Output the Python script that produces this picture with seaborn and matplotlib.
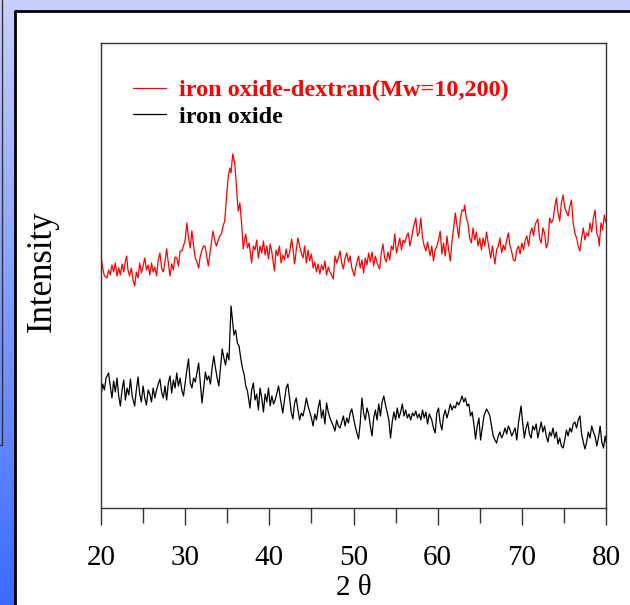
import numpy as np
import pandas as pd
import matplotlib
matplotlib.use("Agg")
import matplotlib.pyplot as plt
from matplotlib.patches import Rectangle
import seaborn as sns

# ---- data (2-theta in degrees, intensity in arbitrary units) ----
red_theta = [20.0,20.2,20.4,20.7,20.9,21.1,21.3,21.5,21.7,21.9,22.1,22.3,22.5,22.7,22.9,23.05,23.2,23.4,23.6,23.8,
             24.0,24.2,24.4,24.6,24.8,25.0,25.2,25.4,25.6,25.8,26.0,26.2,26.4,26.6,26.8,27.0,27.2,27.4,27.6,27.8,
             28.0,28.2,28.4,28.6,28.8,29.0,29.2,29.4,29.6,29.8,30.0,30.2,30.4,30.6,30.8,31.0,31.2,31.4,31.6,31.8,
             32.0,32.2,32.35,32.5,32.75,33.0,33.3,33.5,33.7,33.9,34.1,34.3,34.5,34.7,34.9,35.1,35.3,35.45,35.65,35.8,
             35.9,36.1,36.3,36.5,36.7,36.9,37.1,37.2,37.4,37.6,37.9,38.1,38.3,38.5,38.7,38.9,39.1,39.3,39.5,39.7,
             39.9,40.1,40.3,40.6,40.8,41.0,41.2,41.4,41.6,41.8,42.0,42.2,42.4,42.65,42.8,43.0,43.2,43.4,43.6,43.8,
             44.0,44.2,44.4,44.6,44.8,45.0,45.2,45.4,45.6,45.8,46.0,46.2,46.4,46.6,46.8,47.0,47.2,47.4,47.6,47.8,
             48.0,48.2,48.4,48.6,48.8,49.0,49.2,49.4,49.6,49.8,50.1,50.3,50.6,50.8,51.0,51.2,51.4,51.6,51.8,52.0,
             52.2,52.4,52.6,52.8,53.1,53.3,53.5,53.7,53.9,54.1,54.3,54.5,54.7,54.9,55.1,55.3,55.5,55.7,55.9,56.1,
             56.3,56.5,56.7,56.9,57.1,57.4,57.6,57.8,58.0,58.2,58.4,58.6,58.8,59.1,59.3,59.5,59.7,59.9,60.1,60.3,
             60.5,60.7,60.9,61.1,61.3,61.5,61.7,61.9,62.1,62.3,62.5,62.7,62.9,63.1,63.2,63.4,63.6,63.8,64.0,64.2,
             64.4,64.6,64.8,65.0,65.2,65.4,65.6,65.8,66.0,66.3,66.5,66.8,67.0,67.2,67.4,67.6,67.8,68.0,68.2,68.4,
             68.6,68.8,69.0,69.2,69.4,69.6,69.8,70.0,70.2,70.4,70.6,70.8,71.0,71.2,71.4,71.6,71.9,72.1,72.3,72.5,
             72.7,72.9,73.1,73.3,73.5,73.7,73.9,74.1,74.3,74.5,74.7,74.9,75.1,75.3,75.5,75.7,75.9,76.1,76.3,76.5,
             76.7,76.9,77.1,77.3,77.5,77.7,77.9,78.1,78.3,78.5,78.7,78.9,79.1,79.2,79.4,79.6,79.8,80.0]
red_int = [252,240,232,230,238,233,243,236,245,232,240,233,244,236,247,252,238,232,240,228,
           222,236,230,245,235,242,250,238,243,233,245,236,241,232,248,255,240,236,246,259,
           245,232,244,238,251,250,242,257,257,262,268,285,270,260,277,262,250,246,240,252,
           258,262,262,255,242,258,277,268,262,267,272,274,282,287,310,330,340,335,354,348,
           344,320,297,305,285,259,270,274,260,265,245,262,258,268,250,262,255,267,253,262,
           249,264,256,237,258,252,262,245,253,248,259,250,255,269,260,244,258,270,262,255,
           250,262,245,258,247,254,240,246,236,244,234,243,238,247,233,241,236,233,229,252,
           245,250,257,245,239,250,255,246,252,240,232,242,252,240,248,235,250,243,255,246,
           256,242,252,245,239,255,264,250,246,256,248,262,258,274,255,262,270,258,268,265,
           272,275,262,270,280,290,272,275,290,270,262,257,266,252,262,247,258,262,268,277,
           254,265,252,272,258,247,266,280,295,282,270,290,298,297,303,290,285,270,265,280,
           268,276,262,270,258,270,262,276,265,250,262,244,258,262,270,255,263,258,268,275,
           262,256,248,247,258,262,254,265,258,268,272,262,275,280,272,284,289,270,265,280,
           275,260,265,290,285,288,300,310,295,287,305,313,300,296,292,302,308,285,275,270,
           262,257,270,280,268,275,272,285,276,290,298,275,270,262,285,278,293,285]

black_theta = [20.0,20.2,20.4,20.6,20.9,21.1,21.3,21.5,21.7,21.9,22.1,22.3,22.5,22.7,22.9,23.1,23.3,23.5,23.7,24.0,
               24.2,24.4,24.6,24.8,25.0,25.2,25.4,25.6,25.8,26.0,26.2,26.4,26.6,26.8,27.0,27.2,27.4,27.6,27.8,28.0,
               28.2,28.4,28.6,28.8,29.0,29.2,29.4,29.6,29.8,30.0,30.2,30.4,30.6,30.8,31.0,31.2,31.4,31.6,31.8,32.0,
               32.2,32.4,32.6,32.8,33.0,33.2,33.4,33.6,33.8,34.0,34.2,34.4,34.6,34.8,35.0,35.2,35.45,35.6,35.8,36.0,
               36.2,36.4,36.6,36.8,37.0,37.2,37.4,37.7,37.9,38.1,38.3,38.5,38.7,38.9,39.1,39.3,39.5,39.7,39.9,40.1,
               40.3,40.5,40.7,40.9,41.1,41.3,41.6,41.8,42.0,42.2,42.4,42.6,42.8,43.0,43.2,43.4,43.6,43.8,44.0,44.2,
               44.4,44.6,44.8,45.0,45.2,45.4,45.6,45.8,46.0,46.2,46.4,46.6,46.8,47.0,47.2,47.4,47.6,47.8,48.0,48.2,
               48.4,48.6,48.8,49.0,49.2,49.4,49.6,49.8,50.0,50.2,50.4,50.6,50.8,51.0,51.2,51.4,51.6,51.8,52.0,52.2,
               52.4,52.6,52.8,53.0,53.2,53.4,53.6,53.8,54.0,54.2,54.4,54.6,54.8,55.0,55.2,55.4,55.6,55.8,56.0,56.2,
               56.4,56.6,56.8,57.0,57.2,57.4,57.6,57.8,58.0,58.2,58.4,58.6,58.8,59.0,59.3,59.5,59.7,59.9,60.1,60.3,
               60.5,60.7,60.9,61.1,61.3,61.5,61.7,61.9,62.1,62.3,62.5,62.7,62.9,63.1,63.3,63.5,63.7,63.9,64.1,64.3,
               64.5,64.7,64.9,65.1,65.3,65.5,65.8,66.0,66.2,66.4,66.6,66.8,67.0,67.2,67.4,67.6,67.8,68.0,68.2,68.4,
               68.6,68.8,69.0,69.2,69.4,69.6,69.9,70.1,70.3,70.5,70.7,70.9,71.1,71.3,71.5,71.7,71.9,72.1,72.3,72.5,
               72.7,72.9,73.1,73.3,73.5,73.7,73.9,74.1,74.3,74.5,74.7,74.9,75.1,75.3,75.5,75.7,75.9,76.1,76.3,76.5,
               76.7,76.9,77.1,77.3,77.5,77.7,77.9,78.1,78.3,78.5,78.7,78.9,79.1,79.3,79.5,79.7,79.9,80.0]
black_int = [112,124,118,130,135,122,110,127,116,130,112,102,118,128,108,120,113,129,112,102,
             118,131,114,106,122,110,103,118,114,106,120,110,118,124,129,116,110,122,108,125,
             132,115,128,120,135,122,130,118,112,125,138,149,125,120,130,126,135,145,125,105,
             120,136,128,132,124,140,152,140,130,122,140,159,150,143,155,148,202,190,173,178,
             165,162,150,140,134,122,117,100,118,125,108,114,98,120,110,96,114,106,120,102,
             112,104,108,115,122,110,95,108,120,124,110,96,89,105,110,98,88,95,92,100,
             110,102,96,90,82,94,88,100,108,90,98,84,105,96,90,86,82,77,88,82,
             80,86,92,82,90,85,95,99,90,82,75,69,85,110,95,88,100,94,82,72,
             90,98,88,104,92,106,112,103,96,88,70,86,96,88,100,90,96,104,92,98,
             90,94,88,95,92,97,90,94,88,98,90,96,84,94,88,80,75,95,100,85,
             78,92,98,90,96,104,98,102,100,106,103,107,112,106,110,102,104,92,96,84,
             69,82,90,68,80,92,99,96,92,82,72,68,65,72,76,70,74,80,74,82,
             78,72,76,80,68,85,102,85,70,80,86,74,70,82,78,84,70,78,86,76,
             82,72,66,76,72,80,70,76,64,70,62,60,68,78,72,80,76,84,86,80,
             88,92,74,66,59,66,76,70,82,76,72,62,70,82,66,60,72,66]

series_names = ["iron oxide-dextran(Mw=10,200)", "iron oxide"]
series_colors = ["#ff0000", "#000000"]
x_ticks = [20, 30, 40, 50, 60, 70, 80]

df = pd.concat([
    pd.DataFrame({"theta": red_theta, "intensity": red_int, "series": series_names[0]}),
    pd.DataFrame({"theta": black_theta, "intensity": black_int, "series": series_names[1]}),
], ignore_index=True)

sns.set_theme(style="white")
plt.rcParams["font.family"] = ["Liberation Serif", "DejaVu Serif"]
plt.rcParams["text.color"] = "black"
plt.rcParams["axes.labelcolor"] = "black"
plt.rcParams["xtick.color"] = "black"
plt.rcParams["ytick.color"] = "black"

W, H = 630, 605
fig = plt.figure(figsize=(W / 100, H / 100), dpi=100)

# background gradient + white panel
bg = fig.add_axes([0, 0, 1, 1], zorder=-10)
grad = np.linspace(0, 1, 256).reshape(-1, 1)
cmap = matplotlib.colors.LinearSegmentedColormap.from_list("bg", ["#c8d0ff", "#3a6aff"])
bg.imshow(grad, aspect="auto", cmap=cmap, extent=[0, 1, 0, 1], origin="upper")
bg.set_xlim(0, 1); bg.set_ylim(0, 1)
bg.axis("off")
bg.add_patch(Rectangle((15.5 / W, 0), 1, 1 - 11 / H, facecolor="white", edgecolor="none"))
bg.plot([14.8 / W, 14.8 / W], [0, 1 - 10.5 / H], color="black", lw=2.0, solid_capstyle="butt")
bg.plot([14 / W, 1], [1 - 10.5 / H, 1 - 10.5 / H], color="black", lw=2.0, solid_capstyle="butt")
bg.plot([2 / W, 2 / W, 0], [1, 1 - 445 / H, 1 - 445 / H], color="#333333", lw=1.0)

ax = fig.add_axes([101 / W, (H - 508) / H, 505 / W, 465 / H])
ax.set_facecolor("white")
sns.lineplot(data=df, x="theta", y="intensity", hue="series", hue_order=series_names,
             palette=dict(zip(series_names, series_colors)), estimator=None, sort=False,
             linewidth=0.9, ax=ax)

ax.set_xlim(20, 80)
ax.set_ylim(0, 465)
ax.set_xticks(x_ticks)
ax.set_xticks([25, 35, 45, 55, 65, 75], minor=True)
ax.set_yticks([])
ax.tick_params(axis="x", which="major", direction="out", length=12.5, width=1.0,
               color="#333333", labelcolor="black", labelsize=21, pad=14, bottom=True)
ax.tick_params(axis="x", which="minor", direction="out", length=10.5, width=1.0,
               color="#333333", bottom=True)
for s in ax.spines.values():
    s.set_color("#333333")
    s.set_linewidth(1.0)

ax.set_xlabel("2 θ", fontsize=21, labelpad=3, color="black")
ax.set_ylabel("Intensity", fontsize=25, color="black")
ax.yaxis.set_label_coords(-0.083, 0.51)

leg = ax.legend(loc="upper left", bbox_to_anchor=(0.063, 0.922), frameon=False,
                borderpad=0, borderaxespad=0, handlelength=1.35, handletextpad=0.55,
                labelspacing=0.18, prop={"family": "Liberation Serif", "weight": "bold", "size": 17.5})
for line in leg.get_lines():
    line.set_linewidth(0.9)
for txt, c in zip(leg.get_texts(), series_colors):
    txt.set_color(c)

fig.savefig("out.png", dpi=100)
